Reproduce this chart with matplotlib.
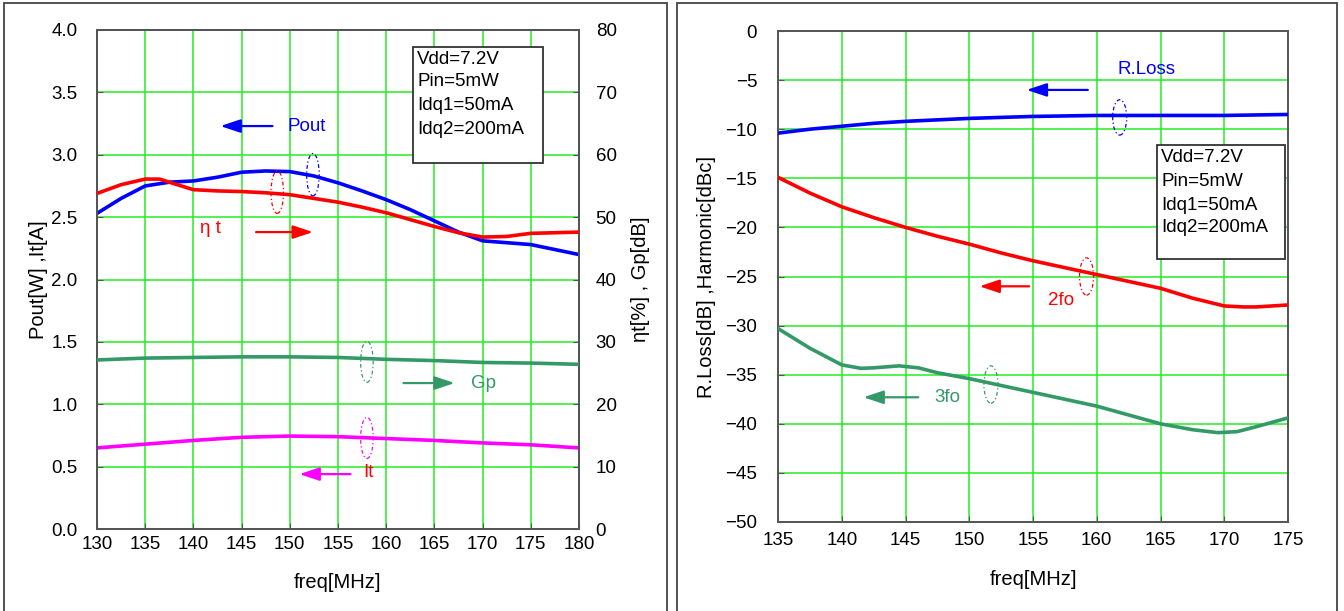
import matplotlib
matplotlib.use("Agg")
import matplotlib.pyplot as plt
from matplotlib.patches import Ellipse, Rectangle

# ---- left panel data: output power, efficiency, gain, drain current ----
freq_pout = [130, 132.5, 135, 137.5, 140, 142.5, 145, 147.5, 150, 152.5, 155,
             157.5, 160, 162.5, 165, 167.5, 170, 172.5, 175, 177.5, 180]
pout_w = [2.53, 2.65, 2.75, 2.78, 2.79, 2.82, 2.86, 2.87, 2.865, 2.83, 2.775,
          2.71, 2.64, 2.56, 2.47, 2.38, 2.31, 2.295, 2.28, 2.24, 2.20]

freq_eff = [130, 132.5, 135, 136.5, 137.5, 140, 142.5, 145, 147.5, 150, 152.5,
            155, 157.5, 160, 162.5, 165, 167.5, 170, 172.5, 175, 177.5, 180]
eff_pct = [53.8, 55.2, 56.1, 56.1, 55.6, 54.4, 54.2, 54.1, 53.9, 53.6, 53.0,
           52.4, 51.6, 50.7, 49.6, 48.5, 47.5, 46.8, 46.9, 47.4, 47.5, 47.6]

freq_gp = [130, 135, 140, 145, 150, 155, 160, 165, 170, 175, 180]
gp_db = [27.1, 27.4, 27.5, 27.6, 27.6, 27.5, 27.2, 27.0, 26.7, 26.6, 26.4]

freq_it = [130, 135, 140, 145, 150, 155, 160, 165, 170, 175, 180]
it_a = [0.65, 0.68, 0.71, 0.735, 0.745, 0.74, 0.725, 0.71, 0.69, 0.675, 0.65]

# ---- right panel data: return loss and harmonics ----
freq_rl = [135, 137.5, 140, 142.5, 145, 147.5, 150, 152.5, 155, 157.5, 160,
           165, 170, 175]
rloss_db = [-10.4, -10.0, -9.7, -9.4, -9.2, -9.05, -8.9, -8.8, -8.7, -8.65,
            -8.6, -8.6, -8.6, -8.5]

freq_2fo = [135, 137.5, 140, 142.5, 145, 147.5, 150, 152.5, 155, 157.5, 160,
            162.5, 165, 167.5, 170, 171.5, 172.5, 175]
h2_dbc = [-14.9, -16.5, -17.9, -19.0, -20.0, -20.9, -21.7, -22.6, -23.4,
          -24.1, -24.8, -25.5, -26.2, -27.2, -28.0, -28.1, -28.1, -27.9]

freq_3fo = [135, 137.5, 140, 141.5, 142.5, 144.5, 146, 147.5, 150, 152.5, 155,
            157.5, 160, 162.5, 165, 167.5, 169.5, 171, 172.5, 175]
h3_dbc = [-30.3, -32.3, -34.0, -34.35, -34.3, -34.1, -34.3, -34.8, -35.4,
          -36.1, -36.8, -37.5, -38.2, -39.1, -40.0, -40.6, -40.9, -40.8,
          -40.3, -39.4]

cond_lines = ["Vdd=7.2V", "Pin=5mW", "Idq1=50mA", "Idq2=200mA"]

BLUE = "#0000ff"
RED = "#ff0000"
GREEN = "#339966"
MAGENTA = "#ff00ff"
GRID = "#22ee22"
SPINE = "#555555"
FS = 13.5      # tick labels, notes
FS_LAB = 14.5  # axis titles

plt.rcParams["font.family"] = ["Liberation Sans", "DejaVu Sans"]
plt.rcParams["font.size"] = FS

W, H = 1344, 611
fig = plt.figure(figsize=(W / 100, H / 100), dpi=100)


def fig_rect(x0, y0, x1, y1):
    """Pixel box (top-left origin) to figure fraction [l, b, w, h]."""
    return [x0 / W, 1 - y1 / H, (x1 - x0) / W, (y1 - y0) / H]


# panel frames
for x0, x1 in [(4, 667), (677, 1337)]:
    fig.add_artist(Rectangle((x0 / W, -0.05), (x1 - x0) / W, 1.05 - 3 / H,
                             transform=fig.transFigure, fill=False,
                             edgecolor="#444444", linewidth=1.3))


def style_spines(ax):
    for s in ax.spines.values():
        s.set_color(SPINE)
        s.set_linewidth(1.4)


def style_axes(ax, xpad, ypad):
    ax.grid(True, color=GRID, linewidth=1.1)
    ax.set_axisbelow(True)
    style_spines(ax)
    ax.tick_params(direction="in", length=4, color=SPINE, labelsize=FS)
    ax.tick_params(axis="x", pad=xpad)
    ax.tick_params(axis="y", pad=ypad)


def oval(ax, x, y, w, h, color):
    ax.add_patch(Ellipse((x, y), w, h, fill=False, edgecolor=color,
                         linestyle=(0, (3, 2, 1, 2)), linewidth=0.9,
                         zorder=5))


def arrow(ax, x_from, x_to, y, color):
    ax.annotate("", xy=(x_to, y), xytext=(x_from, y),
                arrowprops=dict(arrowstyle="-|>,head_length=0.9,head_width=0.3",
                                color=color, lw=1.6, shrinkA=0, shrinkB=0))


def cond_box(ax, x0, x1, y_top, y_bot, tx, line_ys):
    ax.add_patch(Rectangle((x0, y_bot), x1 - x0, y_top - y_bot,
                           transform=ax.transAxes, facecolor="white",
                           edgecolor="#333333", linewidth=1.3, zorder=6))
    for txt, ty in zip(cond_lines, line_ys):
        ax.text(tx, ty, txt, transform=ax.transAxes, fontsize=FS,
                va="center", ha="left", zorder=7)


# ---------------- left panel ----------------
axL = fig.add_axes(fig_rect(97, 30, 579, 529))
style_axes(axL, 5, 14)
axL.set_xlim(130, 180)
axL.set_ylim(0, 4.0)
axL.set_xticks(range(130, 181, 5))
axL.set_yticks([i * 0.5 for i in range(9)])
axL.set_yticklabels([f"{i * 0.5:.1f}" for i in range(9)])
axL.set_xlabel("freq[MHz]", fontsize=FS_LAB)
axL.xaxis.set_label_coords(0.5, -0.088)
axL.set_ylabel("Pout[W] ,It[A]", fontsize=FS_LAB)
axL.yaxis.set_label_coords(-0.102, 0.5)

axR = axL.twinx()
axR.set_ylim(0, 80)
axR.set_yticks(range(0, 81, 10))
style_spines(axR)
axR.tick_params(direction="in", length=4, color=SPINE, labelsize=FS, pad=12)
axR.set_ylabel("\u03b7t[%] , Gp[dB]", fontsize=FS_LAB)
axR.yaxis.set_label_coords(1.108, 0.5)

axL.plot(freq_pout, pout_w, color=BLUE, lw=2.6, zorder=4)
axL.plot(freq_it, it_a, color=MAGENTA, lw=2.6, zorder=4)
axR.plot(freq_eff, eff_pct, color=RED, lw=2.6, zorder=4)
axR.plot(freq_gp, gp_db, color=GREEN, lw=2.6, zorder=4)

oval(axL, 152.4, 2.84, 1.3, 0.34, BLUE)
oval(axL, 148.7, 2.70, 1.3, 0.34, RED)
oval(axL, 158.0, 1.34, 1.3, 0.33, GREEN)
oval(axL, 158.0, 0.73, 1.3, 0.33, MAGENTA)

arrow(axL, 148.2, 142.8, 3.23, BLUE)
axL.text(149.8, 3.23, "Pout", color=BLUE, fontsize=FS, va="center")
arrow(axL, 146.5, 152.4, 2.38, RED)
axL.text(140.7, 2.41, "\u03b7 t", color=RED, fontsize=FS, va="center",
         ha="left")
arrow(axL, 161.8, 167.1, 1.17, GREEN)
axL.text(168.8, 1.17, "Gp", color=GREEN, fontsize=FS, va="center")
arrow(axL, 156.3, 151.0, 0.44, MAGENTA)
axL.text(157.6, 0.45, "It", color=RED, fontsize=FS, va="center")

cond_box(axL, 0.656, 0.925, 0.966, 0.733, 0.664,
         [1 - (y - 30) / 499 for y in (59, 82, 106, 129)])

# ---------------- right panel ----------------
ax2 = fig.add_axes(fig_rect(778, 31, 1288, 522))
style_axes(ax2, 7, 15)
ax2.set_xlim(135, 175)
ax2.set_ylim(-50, 0)
ax2.set_xticks(range(135, 176, 5))
ax2.set_yticks(range(-50, 1, 5))
ax2.set_yticklabels([f"{v}".replace("-", "\u2212") for v in range(-50, 1, 5)])
ax2.set_xlabel("freq[MHz]", fontsize=FS_LAB)
ax2.xaxis.set_label_coords(0.5, -0.098)
ax2.set_ylabel("R.Loss[dB] ,Harmonic[dBc]", fontsize=FS_LAB)
ax2.yaxis.set_label_coords(-0.122, 0.5)

ax2.plot(freq_rl, rloss_db, color=BLUE, lw=2.6, zorder=4)
ax2.plot(freq_2fo, h2_dbc, color=RED, lw=2.6, zorder=4)
ax2.plot(freq_3fo, h3_dbc, color=GREEN, lw=2.6, zorder=4)

oval(ax2, 161.8, -8.8, 1.1, 3.6, BLUE)
oval(ax2, 159.2, -25.0, 1.1, 3.8, RED)
oval(ax2, 151.7, -36.0, 1.1, 3.8, GREEN)

arrow(ax2, 159.3, 154.5, -6.0, BLUE)
ax2.text(161.6, -3.9, "R.Loss", color=BLUE, fontsize=FS, va="center")
arrow(ax2, 154.7, 150.8, -26.0, RED)
ax2.text(156.2, -27.4, "2fo", color=RED, fontsize=FS, va="center")
arrow(ax2, 146.0, 141.7, -37.3, GREEN)
ax2.text(147.3, -37.3, "3fo", color=GREEN, fontsize=FS, va="center")

cond_box(ax2, 0.743, 0.994, 0.768, 0.536, 0.751,
         [1 - (y - 31) / 491 for y in (158, 181, 205, 228)])

fig.savefig("out.png", dpi=100, facecolor="white")
